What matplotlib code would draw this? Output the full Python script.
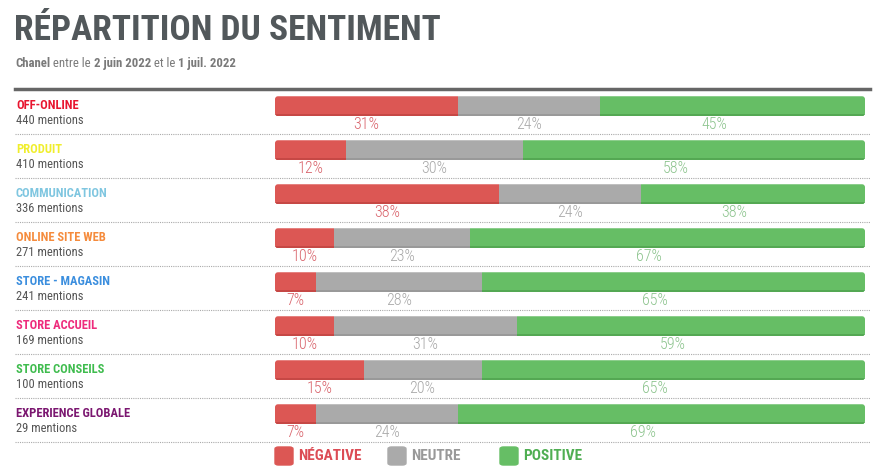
import matplotlib.pyplot as plt
from matplotlib.patches import FancyBboxPatch
import matplotlib.transforms as mtransforms

plt.rcParams['font.family'] = ['Roboto Condensed', 'Roboto', 'DejaVu Sans']

categories = ['OFF-ONLINE', 'PRODUIT', 'COMMUNICATION', 'ONLINE SITE WEB',
              'STORE - MAGASIN', 'STORE ACCUEIL', 'STORE CONSEILS', 'EXPERIENCE GLOBALE']
mentions = [440, 410, 336, 271, 241, 169, 100, 29]
cat_colors = ['#e8152f', '#f0ee2c', '#7fc6e0', '#f58b3c',
              '#3b8ede', '#ee2b7c', '#3fbc4e', '#7b1670']
negative = [31, 12, 38, 10, 7, 10, 15, 7]
neutral = [24, 30, 24, 23, 28, 31, 20, 24]
positive = [45, 58, 38, 67, 65, 59, 65, 69]

series = ['NÉGATIVE', 'NEUTRE', 'POSITIVE']
bar_colors = ['#dc5754', '#aaaaaa', '#66be65']
edge_colors = ['#c64845', '#999999', '#54a853']
txt_colors = ['#d9646c', '#a8a8a8', '#8dc48e']
leg_colors = ['#dc4c55', '#999999', '#4fae52']

W, H = 880, 472
fig = plt.figure(figsize=(W / 100, H / 100), dpi=100)
fig.patch.set_facecolor('white')

def fx(px):
    return px / W

def fy(py):
    return 1 - py / H

# bars area
ax = fig.add_axes([fx(275), fy(441), fx(865) - fx(275), fy(89) - fy(441)])
ax.set_xlim(0, 100)
ax.set_ylim(8, 0)
ax.axis('off')

n = len(categories)
bar_h = 0.45
bar_y = [i + 0.39 for i in range(n)]

# rounded outline used to clip each row
clips = []
for i in range(n):
    p = FancyBboxPatch((0, bar_y[i] - bar_h / 2), 100, bar_h,
                       boxstyle='round,pad=0,rounding_size=0.5',
                       mutation_aspect=0.134, facecolor='none', edgecolor='none')
    ax.add_patch(p)
    clips.append(p)

lefts = [0] * n
for vals, col, ecol, tcol, k in zip([negative, neutral, positive], bar_colors,
                                     edge_colors, txt_colors, range(3)):
    bars = ax.barh(bar_y, vals, left=lefts, height=bar_h, color=col, edgecolor='none')
    # slightly darker strip at the bottom of each bar
    shade = ax.barh([y + bar_h / 2 - 0.025 for y in bar_y], vals, left=lefts,
                    height=0.05, color=ecol, edgecolor='none')
    for i in range(n):
        bars[i].set_clip_path(clips[i])
        shade[i].set_clip_path(clips[i])
    for i in range(n):
        cx = lefts[i] + vals[i] / 2
        if k == 2:
            cx -= 3.1
        ax.text(cx, i + 0.80, f'{vals[i]}%', ha='center', va='center',
                fontsize=11.5, fontweight='light', color=tcol)
    lefts = [a + b for a, b in zip(lefts, vals)]

# left labels, separators
trans = mtransforms.blended_transform_factory(fig.transFigure, ax.transData)
for i in range(n):
    fig.text(fx(16), i + 0.37, categories[i], transform=trans, fontsize=9,
             fontweight='bold', color=cat_colors[i], va='center')
    fig.text(fx(16), i + 0.71, f'{mentions[i]} mentions', transform=trans,
             fontsize=9, color='#555555', va='center')
    fig.add_artist(plt.Line2D([fx(15), fx(870)], [i + 1.02, i + 1.02], transform=trans,
                              color='#aaaaaa', lw=0.8, linestyle=(0, (1, 1))))

# top thick line
fig.add_artist(plt.Line2D([fx(15), fx(870)], [fy(89), fy(89)], color='#666666', lw=2.5))

# title
fig.text(fx(14), fy(40), 'RÉPARTITION DU SENTIMENT', fontsize=25.5, fontweight='bold',
         color='#52585b', va='baseline')

# subtitle, mixed weights chained one after another
parts = [('Chanel', 'bold'), (' entre le ', 'normal'), ('2 juin 2022', 'bold'),
         (' et le ', 'normal'), ('1 juil. 2022', 'bold')]
prev = fig.text(fx(15), fy(67), parts[0][0], fontsize=9.2, fontweight=parts[0][1],
                color='#7a7a7a', va='baseline')
for s, w in parts[1:]:
    prev = fig.add_artist(plt.Annotation(s, xy=(1, 0), xycoords=prev, fontsize=9.2,
                                         fontweight=w, color='#7a7a7a', va='bottom'))

# legend
leg_x = [275, 388, 500]
for lx, name, col, tc in zip(leg_x, series, bar_colors, leg_colors):
    fig.add_artist(FancyBboxPatch((fx(lx), fy(465)), fx(18), fy(447) - fy(465),
                                  boxstyle='round,pad=0,rounding_size=0.004',
                                  transform=fig.transFigure, color=col))
    fig.text(fx(lx + 23), fy(456), name, fontsize=11, fontweight='bold',
             color=tc, va='center')

fig.savefig('out.png', dpi=100, facecolor='white')
